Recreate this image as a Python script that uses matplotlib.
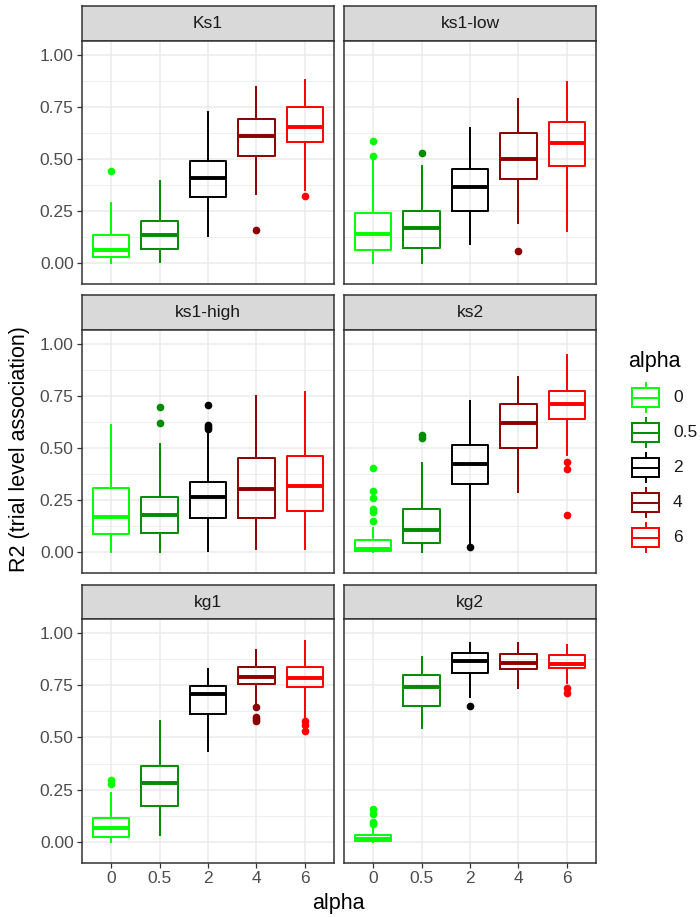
import matplotlib
matplotlib.use("Agg")
import matplotlib.pyplot as plt
from matplotlib.patches import Rectangle

plt.rcParams['font.family'] = ['Liberation Sans', 'DejaVu Sans']

# ---- data ----
PANELS = ["Ks1", "ks1-low", "ks1-high", "ks2", "kg1", "kg2"]
ALPHAS = ["0", "0.5", "2", "4", "6"]
COLORS = ["#00FF00", "#008B00", "#000000", "#8B0000", "#FF0000"]

WHISKER_LO = [
    [0.000, 0.005, 0.130, 0.330, 0.350],
    [0.000, 0.000, 0.090, 0.194, 0.155],
    [0.000, 0.000, 0.006, 0.013, 0.016],
    [0.000, 0.000, 0.040, 0.288, 0.466],
    [0.000, 0.032, 0.437, 0.662, 0.598],
    [0.000, 0.547, 0.694, 0.738, 0.759],
]
Q1 = [
    [0.029, 0.067, 0.319, 0.513, 0.580],
    [0.061, 0.074, 0.252, 0.402, 0.468],
    [0.087, 0.090, 0.165, 0.163, 0.199],
    [0.003, 0.045, 0.325, 0.498, 0.641],
    [0.024, 0.174, 0.611, 0.757, 0.740],
    [0.003, 0.649, 0.807, 0.826, 0.833],
]
MEDIAN = [
    [0.062, 0.133, 0.409, 0.609, 0.654],
    [0.139, 0.170, 0.364, 0.502, 0.579],
    [0.170, 0.176, 0.266, 0.301, 0.317],
    [0.015, 0.106, 0.421, 0.619, 0.712],
    [0.065, 0.280, 0.707, 0.789, 0.786],
    [0.016, 0.740, 0.868, 0.855, 0.850],
]
Q3 = [
    [0.133, 0.202, 0.489, 0.691, 0.749],
    [0.239, 0.248, 0.450, 0.625, 0.676],
    [0.309, 0.264, 0.337, 0.450, 0.463],
    [0.058, 0.205, 0.513, 0.712, 0.776],
    [0.113, 0.365, 0.746, 0.837, 0.839],
    [0.031, 0.797, 0.906, 0.899, 0.897],
]
WHISKER_HI = [
    [0.290, 0.394, 0.724, 0.845, 0.880],
    [0.495, 0.468, 0.651, 0.788, 0.872],
    [0.609, 0.519, 0.570, 0.748, 0.768],
    [0.114, 0.426, 0.727, 0.843, 0.947],
    [0.236, 0.579, 0.828, 0.919, 0.963],
    [0.067, 0.884, 0.952, 0.952, 0.942],
]
OUTLIERS = [
    [[0.442], [], [], [0.160], [0.320]],
    [[0.587, 0.514], [0.527], [], [0.059], []],
    [[], [0.699, 0.622], [0.705, 0.612, 0.600, 0.590], [], []],
    [[0.402, 0.293, 0.258, 0.205, 0.191, 0.149], [0.550, 0.560], [0.023], [],
     [0.434, 0.398, 0.178]],
    [[0.296, 0.277], [], [], [0.645, 0.598, 0.590, 0.579], [0.579, 0.558, 0.529]],
    [[0.156, 0.135, 0.096, 0.087], [], [0.649], [], [0.735, 0.714]],
]

# ---- layout (pixels) ----
W, H = 700, 917
fig = plt.figure(figsize=(W / 100, H / 100), dpi=100)


def rect(x0, y0, x1, y1):
    return [x0 / W, 1 - y1 / H, (x1 - x0) / W, (y1 - y0) / H]


col_x = [(82, 334), (344, 596)]
row_y = [(6, 41, 284), (295, 330, 573), (585, 619, 863)]
EDGE = "#333333"

for i, name in enumerate(PANELS):
    r, c = divmod(i, 2)
    x0, x1 = col_x[c]
    ys, yp, yb = row_y[r]

    # strip
    sax = fig.add_axes(rect(x0, ys, x1, yp))
    sax.set_facecolor("#D9D9D9")
    sax.set_xticks([])
    sax.set_yticks([])
    for sp in sax.spines.values():
        sp.set_color(EDGE)
        sp.set_linewidth(1.1)
    sax.text(0.5, 0.5, name, ha="center", va="center", fontsize=12.5,
             color="#1A1A1A", transform=sax.transAxes)

    ax = fig.add_axes(rect(x0, yp, x1, yb))
    stats = []
    for j in range(len(ALPHAS)):
        stats.append(dict(med=MEDIAN[i][j], q1=Q1[i][j], q3=Q3[i][j],
                          whislo=WHISKER_LO[i][j], whishi=WHISKER_HI[i][j],
                          fliers=OUTLIERS[i][j]))
    art = ax.bxp(stats, positions=range(len(ALPHAS)), widths=0.75,
                 showcaps=False, manage_ticks=False)
    for j, col in enumerate(COLORS):
        art["boxes"][j].set(color=col, linewidth=1.4, zorder=3)
        art["medians"][j].set(color=col, linewidth=2.8, zorder=4)
        for w in art["whiskers"][2 * j:2 * j + 2]:
            w.set(color=col, linewidth=1.4, zorder=3)
        art["fliers"][j].set(marker="o", markerfacecolor=col,
                             markeredgecolor=col, markersize=4.5, zorder=4)

    ax.set_xlim(-0.6, 4.6)
    ax.set_ylim(-0.101, 1.067)
    ax.set_xticks(range(len(ALPHAS)))
    ax.set_xticklabels(ALPHAS)
    ax.set_yticks([0, 0.25, 0.5, 0.75, 1.0])
    ax.set_yticklabels(["0.00", "0.25", "0.50", "0.75", "1.00"])
    ax.set_yticks([0.125, 0.375, 0.625, 0.875], minor=True)
    ax.set_axisbelow(True)
    ax.grid(which="major", color="#EBEBEB", linewidth=1.1)
    ax.grid(which="minor", axis="y", color="#EBEBEB", linewidth=0.6)
    for sp in ax.spines.values():
        sp.set_color(EDGE)
        sp.set_linewidth(1.1)
    ax.tick_params(which="major", length=3.5, width=0.9, color=EDGE,
                   labelcolor="#4D4D4D", labelsize=12.5, pad=2.5)
    ax.tick_params(which="minor", length=0)
    if r < 2:
        ax.tick_params(axis="x", bottom=False, labelbottom=False)
    if c == 1:
        ax.tick_params(axis="y", left=False, labelleft=False)

# axis titles
fig.text(20 / W, 1 - 449 / H, "R2 (trial level association)", rotation=90,
         ha="center", va="center", fontsize=15.5)
fig.text(338 / W, 1 - 903 / H, "alpha", ha="center", va="center", fontsize=15.5)

# legend
fig.text(628 / W, 1 - 361 / H, "alpha", ha="left", va="center", fontsize=15.5)
lax = fig.add_axes(rect(620, 375, 700, 560))
lax.set_xlim(620, 700)
lax.set_ylim(560, 375)
lax.axis("off")
for k, (lab, col) in enumerate(zip(ALPHAS, COLORS)):
    yc = 397.5 + 35 * k
    lax.add_patch(Rectangle((632, yc - 9.5), 27, 19, fill=False,
                            edgecolor=col, linewidth=1.4))
    lax.plot([632, 659], [yc, yc], color=col, linewidth=1.4)
    lax.plot([645.5, 645.5], [yc - 14.5, yc - 9.5], color=col, linewidth=1.4)
    lax.plot([645.5, 645.5], [yc + 9.5, yc + 14.5], color=col, linewidth=1.4)
    lax.text(673, yc, lab, ha="left", va="center", fontsize=12.5,
             color="#1A1A1A")

fig.savefig("out.png", dpi=100)
